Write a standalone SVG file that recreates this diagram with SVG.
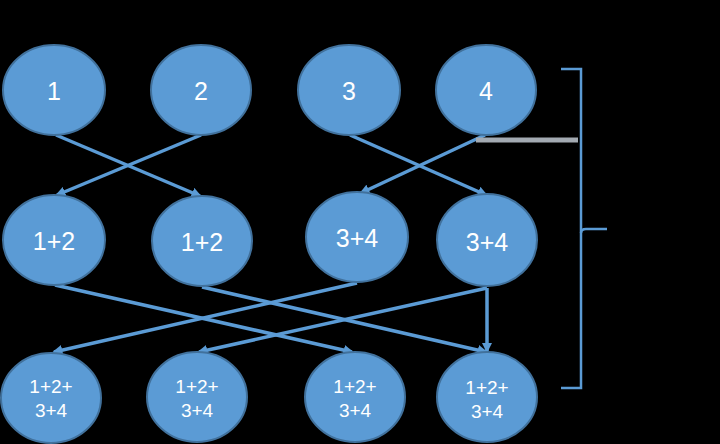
<svg xmlns="http://www.w3.org/2000/svg" width="720" height="444" viewBox="0 0 720 444">
  <style>
    .node ellipse { fill: #5B9BD5; stroke: #41719C; stroke-width: 2; }
    .node text { fill: #FFFFFF; font-family: "Liberation Sans", "DejaVu Sans", sans-serif; text-anchor: middle; dominant-baseline: central; }
    .big { font-size: 25px; }
    .small { font-size: 19px; }
    .edge { fill: none; stroke: #5B9BD5; stroke-width: 3.5; marker-end: url(#arrow); }
    .bracket { fill: none; stroke: #5B9BD5; stroke-width: 2.5; }
  </style>
  <defs>
    <marker id="arrow" viewBox="0 0 10 10" refX="8" refY="5" markerWidth="3" markerHeight="3" orient="auto">
      <path d="M0,0 L10,5 L0,10 z" fill="#5B9BD5"/>
    </marker>
  </defs>
  <rect width="720" height="444" fill="#000000"/>

  <!-- connectors -->
  <g id="connectors">
    <!-- row 1 to row 2 -->
    <line class="edge" x1="56" y1="135" x2="200" y2="196"/>
    <line class="edge" x1="201" y1="135" x2="57" y2="195"/>
    <line class="edge" x1="350" y1="135" x2="486" y2="195"/>
    <line class="edge" x1="485" y1="135" x2="361" y2="193"/>
    <!-- row 2 to row 3 -->
    <line class="edge" x1="55" y1="285" x2="352" y2="352"/>
    <line class="edge" x1="202" y1="287" x2="486" y2="352"/>
    <line class="edge" x1="357" y1="283" x2="54" y2="352"/>
    <line class="edge" x1="487" y1="288" x2="199" y2="352"/>
    <line class="edge" x1="487" y1="288" x2="487" y2="351"/>
    <!-- link from node 4 to the bracket -->
    <line x1="476" y1="140" x2="578" y2="140" stroke="#A3AAB2" stroke-width="5"/>
    <!-- bracket -->
    <path class="bracket" d="M561,69 H581 V388 H561"/>
    <path class="bracket" d="M581,233 Q581,229 586,229 H607"/>
  </g>

  <!-- row 1 -->
  <g id="n1" class="node"><ellipse cx="54" cy="90" rx="51" ry="45"/><text class="big" x="54" y="91">1</text></g>
  <g id="n2" class="node"><ellipse cx="201" cy="90" rx="50" ry="45"/><text class="big" x="201" y="91">2</text></g>
  <g id="n3" class="node"><ellipse cx="349" cy="90" rx="51" ry="45"/><text class="big" x="349" y="91">3</text></g>
  <g id="n4" class="node"><ellipse cx="486" cy="90" rx="50" ry="45"/><text class="big" x="486" y="91">4</text></g>

  <!-- row 2 -->
  <g id="n12a" class="node"><ellipse cx="54" cy="240" rx="51" ry="45"/><text class="big" x="54" y="241">1+2</text></g>
  <g id="n12b" class="node"><ellipse cx="202" cy="241" rx="50" ry="45"/><text class="big" x="202" y="242">1+2</text></g>
  <g id="n34a" class="node"><ellipse cx="357" cy="237" rx="51" ry="45"/><text class="big" x="357" y="238">3+4</text></g>
  <g id="n34b" class="node"><ellipse cx="487" cy="240" rx="50" ry="46"/><text class="big" x="487" y="242">3+4</text></g>

  <!-- row 3 -->
  <g id="s1" class="node"><ellipse cx="51" cy="398" rx="50" ry="45"/><text class="small" x="51" y="386">1+2+</text><text class="small" x="51" y="410">3+4</text></g>
  <g id="s2" class="node"><ellipse cx="197" cy="397" rx="50" ry="45"/><text class="small" x="197" y="386">1+2+</text><text class="small" x="197" y="410">3+4</text></g>
  <g id="s3" class="node"><ellipse cx="355" cy="397" rx="50" ry="45"/><text class="small" x="355" y="386">1+2+</text><text class="small" x="355" y="410">3+4</text></g>
  <g id="s4" class="node"><ellipse cx="487" cy="397" rx="50" ry="45"/><text class="small" x="487" y="387">1+2+</text><text class="small" x="487" y="411">3+4</text></g>
</svg>
